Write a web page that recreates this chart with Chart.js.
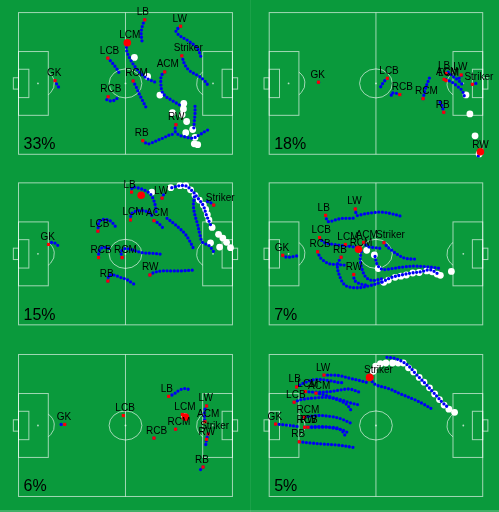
<!DOCTYPE html>
<html>
<head>
<meta charset="utf-8">
<script src="https://cdn.jsdelivr.net/npm/chart.js@4.4.0/dist/chart.umd.min.js"></script>
<style>
  html, body { margin: 0; padding: 0; background: #0a9a3c; }
  body { width: 499px; height: 512px; position: relative; overflow: hidden; }
  canvas { position: absolute; }
  .seam { position: absolute; left: 250px; top: 0; width: 1px; height: 512px; background: rgba(255,255,255,0.07); }
  .edge { position: absolute; left: 0; top: 510px; width: 499px; height: 2px; background: rgba(255,255,255,0.22); }
</style>
</head>
<body>
<div class="seam"></div>
<div class="edge"></div>
<script>
// share of each scenario, one per pitch
const shares = ['33%', '18%', '15%', '7%', '6%', '5%'];

// pitch 1 -- players [label, x, y], tracks, ball trail, ball now (pitch units 120 x 80)
const p1Players = [['GK',20.5,38.4],['LB',70.8,4.1],['LW',90.9,7.7],['LCM',61.0,16.9],['LCB',50.1,25.7],['Striker',91.6,24.4],
  ['ACM',82.0,33.5],['RCM',64.3,38.6],['RCB',50.3,47.5],['RW',88.3,63.3],['RB',69.7,72.3]];
const p1Tracks = [
  [[20.5,38.4],[21.7,40.9],[23.0,42.7]],
  [[70.8,4.1],[69.7,6.8],[68.8,11.3],[69.3,16.3]],
  [[90.9,7.7],[88.3,10.4],[90.5,13.1],[95.0,15.8],[99.6,19.4],[101.7,23.0],[102.6,26.6]],
  [[60.8,17.6],[60.6,21.2],[62.8,26.6],[66.4,31.9],[71.5,36.8],[77.3,39.6]],
  [[50.1,25.7],[52.5,28.3],[55.2,31.9],[57.0,35.2]],
  [[91.6,24.4],[93.2,29.2],[95.9,32.8],[100.5,35.5],[104.1,38.2],[106.2,40.9]],
  [[82.0,33.5],[80.2,35.5],[79.8,39.1],[80.5,44.5],[82.4,47.2],[85.1,49.0],[88.1,50.8],[91.0,52.6]],
  [[64.3,38.6],[66.1,42.2],[67.9,46.3],[69.7,49.9],[71.5,53.5]],
  [[50.3,47.5],[49.4,49.0],[51.6,49.9],[54.3,49.3],[55.6,48.1]],
  [[88.3,63.3],[87.8,66.9],[90.0,69.1],[93.2,70.1],[97.7,70.9],[101.4,69.1],[105.0,66.9],[107.7,65.5]],
  [[69.7,72.3],[72.4,74.1],[75.5,73.2],[78.7,71.8],[81.8,70.5],[84.5,69.2],[87.8,68.4]],
  [[99.0,52.9],[99.0,57.0],[98.6,61.5],[98.3,65.5]]
];
const p1Ball = [[65.0,25.3],[72.4,36.1],[79.3,46.6],[86.3,56.5],[92.7,51.3],[92.5,54.4],[91.8,57.6],[94.3,61.5],
  [97.7,66.0],[93.8,67.8],[99.0,70.5],[98.6,74.1],[100.5,74.6]];
const p1Now = [61.0, 17.0];

// pitch 2
const p2Players = [['GK',27.7,39.3],['LCB',66.4,37.1],['RCB',73.4,46.3],['RCM',86.5,48.6],['RB',98.1,56.3],['LB',99.4,34.4],
  ['ACM',98.3,37.7],['LCM',99.4,38.4],['LW',107.9,35.2],['Striker',114.2,40.5],['RW',118.6,79.2]];
const p2Tracks = [
  [[27.7,39.3],[27.9,40.0]],
  [[66.4,37.1],[64.4,39.1],[62.5,42.2]],
  [[73.4,46.3],[70.7,45.4],[68.5,45.7],[68.9,47.5]],
  [[86.5,48.6],[87.4,44.5],[88.5,40.9],[90.1,36.8]],
  [[98.1,56.3],[97.1,52.6],[95.2,49.0]],
  [[99.4,37.9],[102.4,39.1],[105.5,41.4],[108.4,44.0],[109.7,47.2]],
  [[100.6,33.7],[103.3,36.1],[106.2,38.2],[108.8,40.9]],
  [[108.1,35.5],[107.0,36.8],[105.5,37.9]],
  [[114.2,40.5],[116.0,40.0],[117.8,40.9]],
  [[118.6,79.2],[117.0,81.6],[116.0,82.1]]
];
const p2Ball = [[110.6,46.5],[112.8,57.2],[115.7,69.6],[118.0,79.8]];
const p2Now = [118.7, 78.6];

// pitch 3
const p3Players = [['LB',63.4,5.2],['LW',80.5,8.6],['Striker',109.5,12.5],['LCM',62.8,20.9],['ACM',76.0,21.3],['LCB',44.5,27.2],
  ['GK',16.8,34.7],['RCB',44.9,42.1],['RCM',58.1,42.1],['RW',73.7,51.9],['RB',50.1,55.3]];
const p3Tracks = [
  [[63.4,5.2],[63.9,2.5],[67.5,3.0],[71.1,4.3],[74.2,6.6],[76.0,10.2],[76.9,13.8],[77.3,17.4]],
  [[80.5,8.6],[81.6,6.1]],
  [[76.0,21.3],[78.4,22.7],[80.2,24.5],[81.8,26.3]],
  [[62.8,20.9],[63.4,17.4],[66.1,15.9],[69.7,15.6],[73.3,16.8],[75.5,19.2]],
  [[83.3,20.0],[86.9,22.7],[90.5,25.8],[93.6,29.0],[95.9,32.6],[97.9,36.5]],
  [[109.5,12.5],[107.7,11.1],[105.0,10.2]],
  [[98.6,7.9],[98.1,12.9],[99.0,18.3],[100.5,23.6],[101.7,29.0],[103.2,33.5],[106.8,35.3],[109.5,38.8]],
  [[86.0,2.7],[90.5,1.6],[94.1,1.8],[97.7,4.8],[100.5,8.4],[103.7,12.9],[105.3,17.9],[108.2,24.7]],
  [[16.8,34.7],[19.0,33.5],[21.2,34.4],[23.0,36.5]],
  [[44.5,27.2],[45.3,21.8],[48.0,20.6],[51.6,21.5],[54.3,24.5]],
  [[44.9,42.1],[45.3,38.0],[47.1,36.5],[49.8,36.5],[51.6,38.0]],
  [[58.1,42.1],[57.6,38.8],[59.7,37.0],[64.3,37.9],[69.7,39.4],[75.1,39.7],[80.9,40.3]],
  [[73.7,51.9],[76.0,50.5],[80.5,49.6],[85.9,49.6],[91.4,49.6],[97.7,49.2]],
  [[50.1,55.3],[50.7,52.3],[53.4,51.9],[57.0,53.2],[60.6,54.4],[63.4,56.2],[65.7,57.6]]
];
const p3Ball = [[74.8,5.2],[85.4,2.7],[90.5,1.6],[93.8,1.6],[96.5,3.9],[99.0,7.0],[101.4,9.7],[103.7,12.5],[105.0,15.0],
  [105.9,17.9],[106.8,20.9],[108.6,25.1],[112.2,29.0],[114.6,31.1],[116.7,33.5],[118.9,36.5],[112.8,36.2],[107.7,33.8]];
const p3Now = [68.8, 7.0];

// pitch 4
const p4Players = [['LW',48.4,14.7],['LB',31.7,18.3],['LCB',28.3,30.8],['LCM',42.8,34.7],['ACM',53.1,33.5],['Striker',64.5,33.7],
  ['RCB',27.2,38.8],['RCM',49.7,37.9],['RB',40.4,41.9],['GK',7.6,40.8],['RW',47.5,51.6]];
const p4Tracks = [
  [[7.6,40.8],[10.0,41.9],[15.4,41.2]],
  [[31.7,18.3],[33.0,21.8],[37.2,20.9],[40.8,20.0],[45.3,20.0],[49.0,19.7]],
  [[48.4,14.7],[49.3,18.3],[52.6,17.7],[58.0,16.8],[63.5,16.5],[68.9,17.4],[74.0,18.8]],
  [[28.3,30.8],[30.8,33.5],[36.3,34.7],[40.8,35.3],[45.3,35.8],[50.8,36.5]],
  [[27.2,38.8],[29.0,42.4],[33.5,45.5],[38.1,46.0],[43.5,46.4]],
  [[40.4,41.9],[38.4,46.0],[39.2,51.4],[42.6,57.6],[48.9,59.1],[56.2,58.0],[63.5,55.8]],
  [[47.5,51.6],[48.0,54.9],[50.8,56.8],[54.4,57.6]],
  [[51.7,38.8],[51.2,43.3],[52.2,48.7],[54.4,53.2],[58.0,55.0],[63.5,54.0]],
  [[53.1,33.5],[55.3,35.8],[59.5,36.5],[63.5,37.0]],
  [[59.5,41.5],[60.7,46.0],[63.5,48.7],[68.9,48.3],[75.2,47.4],[81.6,46.9],[88.8,47.3],[97.0,48.3]],
  [[64.5,33.7],[66.2,35.8],[68.9,38.0],[72.5,40.6],[76.1,42.4],[79.8,42.9],[83.4,42.9]],
  [[63.5,55.8],[68.9,53.2],[74.3,51.9],[79.8,50.8],[85.2,50.1],[90.6,49.0],[95.7,51.9]]
];
const p4Ball = [[54.8,38.0],[59.1,40.6],[61.3,48.3],[64.4,56.0],[67.0,54.8],[70.7,53.2],[74.0,52.6],[77.1,51.9],
  [80.7,50.8],[84.3,50.5],[88.5,49.6],[91.6,50.1],[94.3,51.4],[96.2,52.1],[102.4,49.9]];
const p4Now = [50.2, 37.4];

// pitch 5
const p5Players = [['LB',84.2,23.6],['GK',25.9,39.4],['LCB',58.8,34.4],['LCM',91.9,33.8],['RCM',88.1,42.1],['RCB',76.0,47.1],
  ['LW',105.5,29.0],['ACM',104.6,37.9],['Striker',106.4,44.8],['RW',105.5,47.8],['RB',103.5,63.4]];
const p5Tracks = [
  [[84.2,23.6],[86.9,22.4],[90.5,20.0],[93.2,19.2],[96.5,20.0]],
  [[25.9,39.4],[23.5,39.4]],
  [[88.1,42.1],[89.2,41.0]],
  [[76.0,47.1],[75.8,47.8]],
  [[105.5,29.0],[104.4,31.7],[104.4,37.0]],
  [[106.4,44.8],[105.5,47.8],[105.0,51.0]],
  [[103.5,63.4],[101.7,65.3]]
];
const p5Ball = [[93.2,35.0]];
const p5Now = [93.6, 35.3];

// pitch 6
const p6Players = [['LW',30.8,11.6],['LB',15.4,18.3],['LCM',20.3,20.9],['ACM',26.3,21.8],['LCB',14.0,26.9],['RCM',19.9,35.3],
  ['RCB',19.9,41.0],['RW',21.8,41.0],['GK',3.6,39.2],['RB',16.9,49.2],['Striker',57.8,12.9]];
const p6Tracks = [
  [[3.6,39.2],[9.1,39.7],[16.3,40.6]],
  [[30.8,11.6],[35.4,11.6],[39.9,12.0],[45.3,13.4],[50.8,14.7],[55.3,15.9]],
  [[56.6,13.8],[59.8,17.0],[67.1,19.2],[74.3,22.4],[81.6,25.4],[87.0,28.1],[91.6,30.8]],
  [[15.4,18.3],[19.9,15.9],[26.3,14.1],[33.5,14.7],[39.9,15.9],[42.6,15.6]],
  [[20.3,20.9],[27.2,21.3],[34.4,20.9],[39.9,20.0],[45.3,19.5],[50.8,21.3]],
  [[26.3,21.8],[30.8,22.7],[35.4,24.2],[39.9,25.4],[45.3,27.2],[50.8,28.5]],
  [[14.0,26.9],[18.1,25.4],[25.4,24.5],[32.6,24.2],[38.1,25.4],[43.5,28.1],[46.2,31.7]],
  [[19.9,35.3],[27.2,34.4],[34.4,34.9],[39.9,36.1],[46.2,38.8]],
  [[19.9,41.0],[27.2,41.0],[34.4,41.0],[39.9,42.1],[43.5,46.9]],
  [[21.8,41.0],[29.9,40.6],[36.3,41.5],[41.7,42.8],[44.4,44.2]],
  [[16.9,49.2],[23.6,49.9],[30.8,50.5],[38.1,51.0],[47.1,52.3]],
  [[66.2,1.6],[70.2,2.1],[74.7,3.9],[78.5,6.6],[82.1,10.6],[85.2,13.8],[88.3,17.0],[91.2,20.2],[94.3,23.6],[97.5,27.2],[100.6,29.9]]
];
const p6Ball = [[58.5,9.5],[59.8,6.6],[62.5,5.2],[65.6,4.8],[69.3,4.8],[72.5,4.8],[75.4,4.8],[78.3,7.5],[81.2,9.8],[84.3,12.9],
  [87.0,15.6],[90.1,18.8],[93.0,22.2],[95.7,25.4],[98.3,28.5],[101.0,30.8],[104.2,32.6]];
const p6Now = [56.4, 12.9];

const panels = [
  { players: p1Players, tracks: p1Tracks, ball: p1Ball, now: p1Now },
  { players: p2Players, tracks: p2Tracks, ball: p2Ball, now: p2Now },
  { players: p3Players, tracks: p3Tracks, ball: p3Ball, now: p3Now },
  { players: p4Players, tracks: p4Tracks, ball: p4Ball, now: p4Now },
  { players: p5Players, tracks: p5Tracks, ball: p5Ball, now: p5Now },
  { players: p6Players, tracks: p6Tracks, ball: p6Ball, now: p6Now }
];

// where each canvas sits and where the touchlines fall inside it (px)
const frames = [
  { left: 0,   top: 0,   w: 250, h: 170, x0: 15,   x1: 236,   y0: 9,   y1: 157.7 },
  { left: 250, top: 0,   w: 249, h: 170, x0: 15.7, x1: 236.3, y0: 9,   y1: 157.7 },
  { left: 0,   top: 170, w: 250, h: 170, x0: 15,   x1: 236,   y0: 9.3, y1: 158.3 },
  { left: 250, top: 170, w: 249, h: 170, x0: 15.7, x1: 236.3, y0: 9.3, y1: 158.3 },
  { left: 0,   top: 340, w: 250, h: 170, x0: 15,   x1: 236,   y0: 11,  y1: 160 },
  { left: 250, top: 340, w: 249, h: 170, x0: 15.7, x1: 236.3, y0: 11,  y1: 160 }
];

// pitch markings in pitch units
const L = 120, W = 80;
const mark = { box: 16.7, boxTop: 22, boxBot: 58, six: 5.8, sixTop: 32, sixBot: 48,
  goal: 2.9, goalTop: 36.8, goalBot: 43.2, spot: 10.9, rx: 9.2, ry: 8.2 };

const RED = '#ff0000';
const BLUE = '#0000f5';
const LABEL_FONT = '10px "Liberation Sans", Arial, sans-serif';
const SHARE_FONT = '16px "Liberation Sans", Arial, sans-serif';

const pitchPlugin = {
  id: 'pitch',
  beforeDatasetsDraw(chart) {
    const { ctx, scales: { x, y } } = chart;
    const X = v => x.getPixelForValue(v), Y = v => y.getPixelForValue(v);
    const rect = (a, b, c, d) => ctx.strokeRect(X(a), Y(b), X(c) - X(a), Y(d) - Y(b));
    ctx.save();
    ctx.strokeStyle = 'rgba(255,255,255,0.62)';
    ctx.lineWidth = 1;
    rect(0, 0, L, W);
    ctx.beginPath(); ctx.moveTo(X(L / 2), Y(0)); ctx.lineTo(X(L / 2), Y(W)); ctx.stroke();
    rect(0, mark.boxTop, mark.box, mark.boxBot);
    rect(L - mark.box, mark.boxTop, L, mark.boxBot);
    rect(0, mark.sixTop, mark.six, mark.sixBot);
    rect(L - mark.six, mark.sixTop, L, mark.sixBot);
    rect(-mark.goal, mark.goalTop, 0, mark.goalBot);
    rect(L, mark.goalTop, L + mark.goal, mark.goalBot);
    const rx = X(mark.rx) - X(0), ry = Y(mark.ry) - Y(0);
    ctx.beginPath(); ctx.ellipse(X(L / 2), Y(W / 2), rx, ry, 0, 0, Math.PI * 2); ctx.stroke();
    const a = Math.acos((mark.box - mark.spot) / mark.rx);
    ctx.beginPath(); ctx.ellipse(X(mark.spot), Y(W / 2), rx, ry, 0, -a, a); ctx.stroke();
    ctx.beginPath(); ctx.ellipse(X(L - mark.spot), Y(W / 2), rx, ry, 0, Math.PI - a, Math.PI + a); ctx.stroke();
    ctx.fillStyle = 'rgba(255,255,255,0.7)';
    [mark.spot, L / 2, L - mark.spot].forEach(s => {
      ctx.beginPath(); ctx.arc(X(s), Y(W / 2), 0.9, 0, Math.PI * 2); ctx.fill();
    });
    ctx.restore();
  }
};

function overlayPlugin(panel, share) {
  return {
    id: 'overlay',
    afterDatasetsDraw(chart) {
      const { ctx, scales: { x, y } } = chart;
      ctx.save();
      ctx.fillStyle = '#000';
      ctx.textBaseline = 'alphabetic';
      ctx.font = LABEL_FONT;
      panel.players.forEach(([name, px, py]) => {
        ctx.fillText(name, x.getPixelForValue(px) - 8, y.getPixelForValue(py) - 4.5);
      });
      ctx.font = SHARE_FONT;
      ctx.fillText(share, x.getPixelForValue(2.8), y.getPixelForValue(77));
      ctx.restore();
    }
  };
}

const pts = arr => arr.map(([a, b]) => ({ x: a, y: b }));

function buildDatasets(p) {
  const sets = [];
  sets.push({ data: pts([p.now]), pointRadius: 3.8, pointBackgroundColor: RED, pointBorderWidth: 0, order: 0 });
  sets.push({ data: p.players.map(([, a, b]) => ({ x: a, y: b })), pointStyle: 'rect', pointRadius: 2.2,
    pointBackgroundColor: RED, pointBorderWidth: 0, order: 1 });
  p.tracks.forEach(t => sets.push({
    data: pts(t), showLine: true, pointRadius: 0, borderColor: BLUE, borderWidth: 3.3,
    borderDash: [0, 3.6], borderCapStyle: 'round', tension: 0.35, order: 2
  }));
  sets.push({ data: pts(p.ball), pointRadius: 3.4, pointBackgroundColor: '#ffffff', pointBorderWidth: 0, order: 3 });
  return sets;
}

panels.forEach((panel, i) => {
  const f = frames[i];
  const cv = document.createElement('canvas');
  cv.width = f.w; cv.height = f.h;
  cv.style.left = f.left + 'px'; cv.style.top = f.top + 'px';
  cv.style.width = f.w + 'px'; cv.style.height = f.h + 'px';
  document.body.appendChild(cv);

  const ux = L / (f.x1 - f.x0), uy = W / (f.y1 - f.y0);
  new Chart(cv, {
    type: 'scatter',
    data: { datasets: buildDatasets(panel) },
    options: {
      responsive: false,
      animation: false,
      events: [],
      layout: { padding: 0 },
      plugins: { legend: { display: false }, tooltip: { enabled: false } },
      scales: {
        x: { type: 'linear', display: false, min: -f.x0 * ux, max: (f.w - f.x0) * ux },
        y: { type: 'linear', display: false, reverse: true, min: -f.y0 * uy, max: (f.h - f.y0) * uy }
      }
    },
    plugins: [pitchPlugin, overlayPlugin(panel, shares[i])]
  });
});
</script>
</body>
</html>
